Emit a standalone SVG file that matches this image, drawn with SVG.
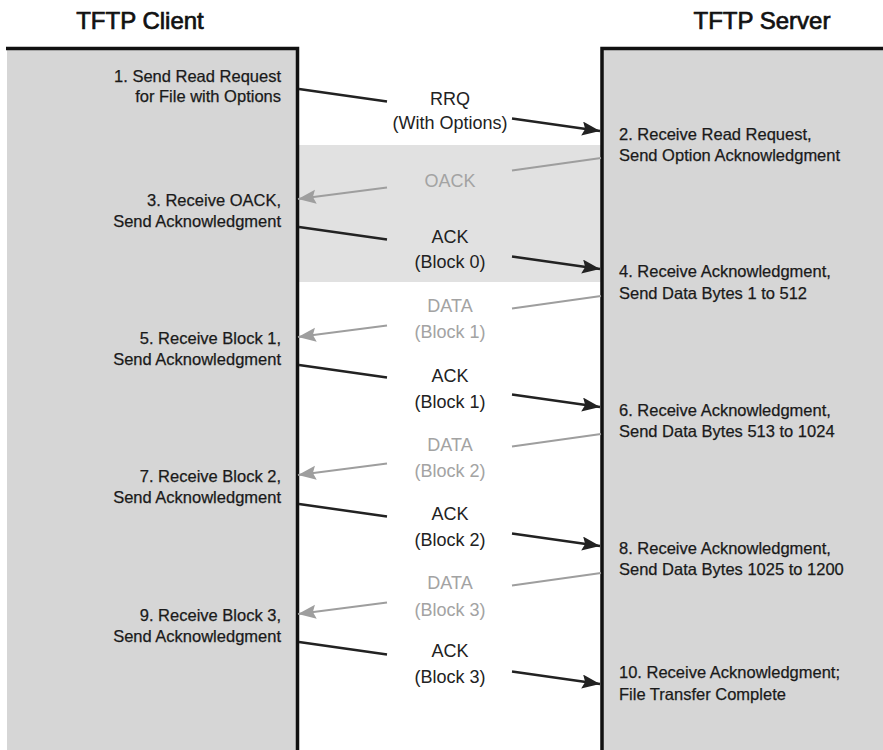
<svg xmlns="http://www.w3.org/2000/svg" width="883" height="750" viewBox="0 0 883 750">
<style>
.box{fill:#d6d6d6;stroke:none}
.border{fill:none;stroke:#111;stroke-width:3.5}
.band{fill:#e1e1e1}
.hdr{font-family:"Liberation Sans",Arial,sans-serif;font-size:24px;fill:#111;stroke:#111;stroke-width:0.7}
.step{font-family:"Liberation Sans",Arial,sans-serif;font-size:16.5px;fill:#1a1a1a;stroke:#1a1a1a;stroke-width:0.25}
.lbl{font-family:"Liberation Sans",Arial,sans-serif;font-size:18px;text-anchor:middle}
.dk{fill:#222}
.lt{fill:#a3a3a3}
.blk{fill:none;stroke:#222;stroke-width:2.5}
.gry{fill:none;stroke:#9e9e9e;stroke-width:2.2}
</style>
<defs>
<marker id="ahb" markerUnits="userSpaceOnUse" viewBox="0 0 20 16" markerWidth="20" markerHeight="16" refX="18" refY="7" orient="auto"><path d="M0,0 L18,7 L0,14 L3,7 z" fill="#222"/></marker>
<marker id="ahg" markerUnits="userSpaceOnUse" viewBox="0 0 20 16" markerWidth="20" markerHeight="16" refX="18" refY="7" orient="auto"><path d="M0,0 L18,7 L0,14 L3,7 z" fill="#9e9e9e"/></marker>
</defs>
<rect width="883" height="750" fill="#fff"/>
<rect id="band" class="band" x="299" y="145" width="302" height="137"/>
<g id="client">
<rect class="box" x="7" y="48" width="290" height="710"/>
<path class="border" d="M6,48.5 H297.5 V752"/>
<text class="hdr" x="140" y="29" text-anchor="middle">TFTP Client</text>
</g>
<g id="server">
<rect class="box" x="602" y="48" width="290" height="710"/>
<path class="border" d="M886,48.5 H602 V752"/>
<text class="hdr" x="762" y="29" text-anchor="middle">TFTP Server</text>
</g>
<g id="step1" class="step" text-anchor="end"><text x="281" y="82">1. Send Read Request</text><text x="281" y="102">for File with Options</text></g>
<g id="step3" class="step" text-anchor="end"><text x="281" y="206">3. Receive OACK,</text><text x="281" y="227">Send Acknowledgment</text></g>
<g id="step5" class="step" text-anchor="end"><text x="281" y="344">5. Receive Block 1,</text><text x="281" y="365">Send Acknowledgment</text></g>
<g id="step7" class="step" text-anchor="end"><text x="281" y="482">7. Receive Block 2,</text><text x="281" y="503">Send Acknowledgment</text></g>
<g id="step9" class="step" text-anchor="end"><text x="281" y="621">9. Receive Block 3,</text><text x="281" y="642">Send Acknowledgment</text></g>
<g id="step2" class="step"><text x="619" y="140">2. Receive Read Request,</text><text x="619" y="161">Send Option Acknowledgment</text></g>
<g id="step4" class="step"><text x="619" y="277">4. Receive Acknowledgment,</text><text x="619" y="299">Send Data Bytes 1 to 512</text></g>
<g id="step6" class="step"><text x="619" y="416">6. Receive Acknowledgment,</text><text x="619" y="437">Send Data Bytes 513 to 1024</text></g>
<g id="step8" class="step"><text x="619" y="554">8. Receive Acknowledgment,</text><text x="619" y="575">Send Data Bytes 1025 to 1200</text></g>
<g id="step10" class="step"><text x="619" y="678">10. Receive Acknowledgment;</text><text x="619" y="700">File Transfer Complete</text></g>
<g id="connectors">
<path class="blk" d="M299,89 L387,101.5 M512,118.5 L600,131" marker-end="url(#ahb)"/>
<path class="gry" d="M601,158 L512,170.5 M387,187.5 L298,199" marker-end="url(#ahg)"/>
<path class="blk" d="M299,227 L387,239.5 M512,256.5 L600,269" marker-end="url(#ahb)"/>
<path class="gry" d="M601,296 L512,308.5 M387,325.5 L298,337" marker-end="url(#ahg)"/>
<path class="blk" d="M299,365 L387,377.5 M512,394.5 L600,407" marker-end="url(#ahb)"/>
<path class="gry" d="M601,434 L512,446.5 M387,463.5 L298,475" marker-end="url(#ahg)"/>
<path class="blk" d="M299,504 L387,516.5 M512,533.5 L600,546" marker-end="url(#ahb)"/>
<path class="gry" d="M601,573 L512,585.5 M387,602.5 L298,614" marker-end="url(#ahg)"/>
<path class="blk" d="M299,642 L387,654.5 M512,671.5 L600,684" marker-end="url(#ahb)"/>
</g>
<g id="labels" class="lbl">
<text class="dk" x="450" y="105">RRQ</text><text class="dk" x="450" y="129">(With Options)</text>
<text class="lt" x="450" y="187">OACK</text>
<text class="dk" x="450" y="243">ACK</text><text class="dk" x="450" y="268">(Block 0)</text>
<text class="lt" x="450" y="312">DATA</text><text class="lt" x="450" y="338">(Block 1)</text>
<text class="dk" x="450" y="382">ACK</text><text class="dk" x="450" y="408">(Block 1)</text>
<text class="lt" x="450" y="451">DATA</text><text class="lt" x="450" y="477">(Block 2)</text>
<text class="dk" x="450" y="520">ACK</text><text class="dk" x="450" y="546">(Block 2)</text>
<text class="lt" x="450" y="589">DATA</text><text class="lt" x="450" y="616">(Block 3)</text>
<text class="dk" x="450" y="657">ACK</text><text class="dk" x="450" y="683">(Block 3)</text>
</g>
</svg>
